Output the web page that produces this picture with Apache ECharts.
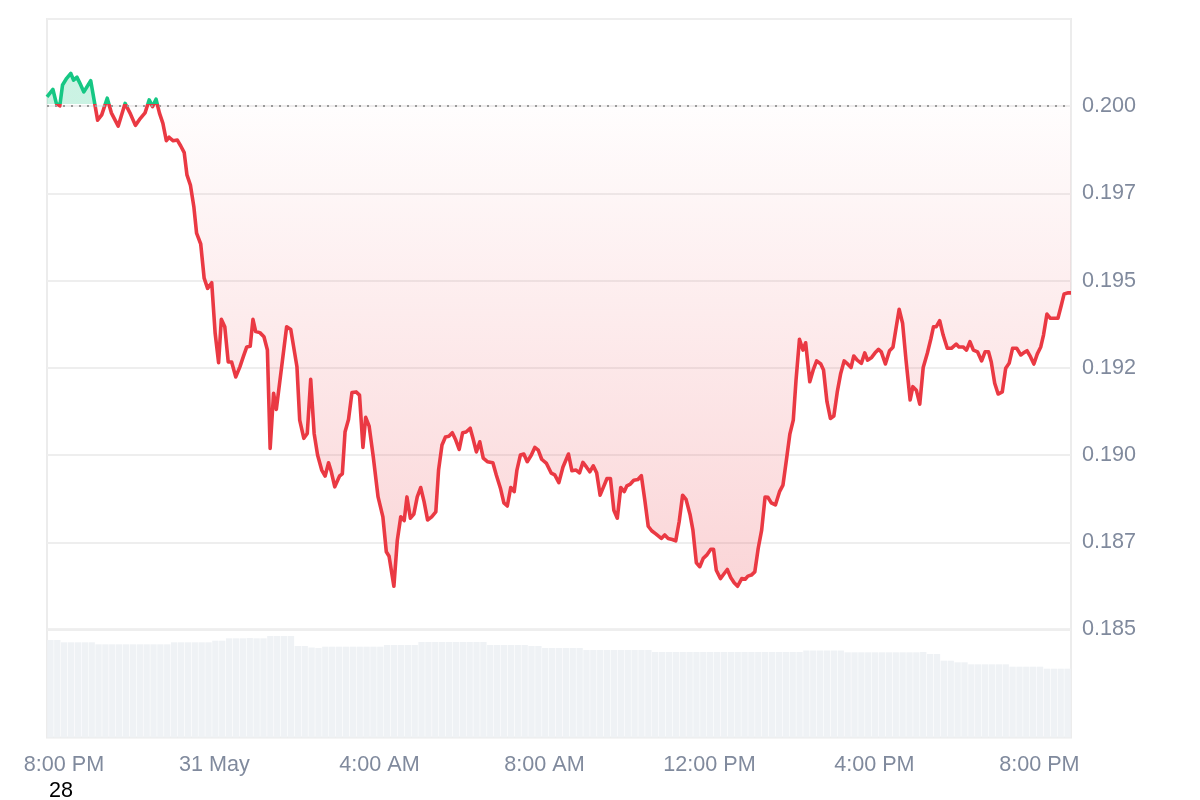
<!DOCTYPE html>
<html>
<head>
<meta charset="utf-8">
<script src="https://cdn.jsdelivr.net/npm/echarts@6/dist/echarts.min.js"></script>
<style>
html,body{margin:0;padding:0;background:#ffffff;}
#c{width:1200px;height:800px;}
</style>
</head>
<body>
<div id="c"></div>
<script>
// minutes relative to 8:00 PM (30 May)
const times = [
  -3.6, 5, 10, 15, 19, 25, 31, 35, 40, 44,
  50, 60, 70, 76, 84, 90, 100, 110, 117, 125,
  131, 139, 142, 145, 150, 155, 160, 165, 170, 174,
  180, 186, 191, 196, 200, 205, 210, 214, 220, 225,
  230, 236, 241, 246, 250, 255, 260, 265, 271, 277,
  282, 287, 292, 296, 300, 306, 312, 317, 321, 326,
  330, 345, 351, 360, 364, 370, 375, 380, 385, 390,
  396, 401, 406, 410, 415, 422, 426, 430, 435, 440,
  446, 451, 456, 460, 465, 471, 478, 485, 490, 494,
  501, 506, 511, 516, 520, 525, 530, 535, 540, 545,
  550, 556, 562, 566, 571, 576, 581, 586, 591, 596,
  601, 606, 612, 616, 621, 626, 631, 637, 645, 650,
  656, 661, 666, 671, 676, 680, 685, 690, 695, 701,
  706, 711, 716, 723, 730, 735, 741, 747, 755, 760,
  766, 771, 776, 781, 786, 791, 796, 801, 806, 811,
  816, 821, 826, 831, 836, 840, 845, 850, 856, 861,
  866, 871, 876, 882, 890, 895, 900, 906, 911, 916,
  921, 926, 932, 936, 941, 946, 951, 956, 962, 966,
  970, 976, 981, 986, 991, 996, 1001, 1007, 1012, 1016,
  1021, 1026, 1031, 1036, 1041, 1045, 1050, 1056, 1062, 1067,
  1072, 1077, 1082, 1086, 1091, 1096, 1100, 1106, 1111, 1116,
  1122, 1126, 1131, 1136, 1141, 1146, 1151, 1156, 1160, 1166,
  1170, 1175, 1181, 1186, 1190, 1196, 1201, 1206, 1210, 1216,
  1222, 1227, 1231, 1236, 1241, 1246, 1252, 1256, 1261, 1266,
  1271, 1277, 1282, 1286, 1290, 1295, 1300, 1306, 1312, 1319,
  1323, 1329, 1334, 1339, 1344, 1350, 1356, 1361, 1366, 1370,
  1375, 1380, 1386, 1391, 1396, 1401, 1407, 1413, 1417, 1422,
  1427, 1432, 1437, 1442, 1446, 1451, 1456, 1462, 1467, 1472,
  1476, 1482, 1486
];
const prices = [
  0.20027, 0.20048, 0.20008, 0.20001, 0.20061, 0.20080, 0.20094, 0.20075, 0.20083, 0.20067,
  0.20041, 0.20073, 0.19960, 0.19975, 0.20023, 0.19981, 0.19943, 0.20008, 0.19981, 0.19945,
  0.19962, 0.19981, 0.19999, 0.20018, 0.19999, 0.20020, 0.19980, 0.19951, 0.19901, 0.19911,
  0.19901, 0.19903, 0.19886, 0.19867, 0.19803, 0.19774, 0.19712, 0.19636, 0.19605, 0.19507,
  0.19478, 0.19494, 0.19349, 0.19265, 0.19389, 0.19368, 0.19267, 0.19267, 0.19224, 0.19253,
  0.19282, 0.19310, 0.19312, 0.19389, 0.19354, 0.19351, 0.19339, 0.19301, 0.19019, 0.19177,
  0.19131, 0.19368, 0.19360, 0.19253, 0.19100, 0.19048, 0.19062, 0.19217, 0.19062, 0.19000,
  0.18957, 0.18940, 0.18978, 0.18952, 0.18909, 0.18940, 0.18946, 0.19067, 0.19102, 0.19179,
  0.19181, 0.19172, 0.19022, 0.19108, 0.19083, 0.18995, 0.18880, 0.18823, 0.18723, 0.18710,
  0.18624, 0.18756, 0.18823, 0.18812, 0.18880, 0.18819, 0.18831, 0.18880, 0.18907, 0.18866,
  0.18814, 0.18823, 0.18837, 0.18957, 0.19029, 0.19052, 0.19054, 0.19064, 0.19043, 0.19016,
  0.19064, 0.19066, 0.19077, 0.19048, 0.19009, 0.19038, 0.18991, 0.18981, 0.18978, 0.18943,
  0.18905, 0.18863, 0.18854, 0.18907, 0.18895, 0.18957, 0.19000, 0.19003, 0.18981, 0.19000,
  0.19022, 0.19014, 0.18988, 0.18976, 0.18948, 0.18943, 0.18921, 0.18966, 0.19003, 0.18955,
  0.18957, 0.18949, 0.18979, 0.18966, 0.18952, 0.18969, 0.18949, 0.18885, 0.18909, 0.18933,
  0.18933, 0.18842, 0.18819, 0.18907, 0.18895, 0.18912, 0.18917, 0.18928, 0.18930, 0.18941,
  0.18871, 0.18796, 0.18783, 0.18774, 0.18761, 0.18771, 0.18761, 0.18758, 0.18754, 0.18809,
  0.18885, 0.18873, 0.18828, 0.18785, 0.18691, 0.18680, 0.18704, 0.18713, 0.18730, 0.18730,
  0.18670, 0.18646, 0.18659, 0.18672, 0.18649, 0.18634, 0.18624, 0.18646, 0.18644, 0.18653,
  0.18656, 0.18665, 0.18733, 0.18785, 0.18880, 0.18879, 0.18863, 0.18857, 0.18895, 0.18914,
  0.18986, 0.19060, 0.19100, 0.19215, 0.19332, 0.19301, 0.19322, 0.19210, 0.19244, 0.19270,
  0.19261, 0.19244, 0.19153, 0.19105, 0.19112, 0.19181, 0.19234, 0.19270, 0.19263, 0.19251,
  0.19284, 0.19272, 0.19263, 0.19293, 0.19272, 0.19280, 0.19293, 0.19303, 0.19296, 0.19261,
  0.19299, 0.19309, 0.19358, 0.19418, 0.19378, 0.19272, 0.19158, 0.19196, 0.19186, 0.19146,
  0.19251, 0.19292, 0.19332, 0.19368, 0.19368, 0.19385, 0.19344, 0.19306, 0.19306, 0.19318,
  0.19310, 0.19310, 0.19301, 0.19325, 0.19301, 0.19296, 0.19270, 0.19296, 0.19296, 0.19267,
  0.19206, 0.19175, 0.19181, 0.19249, 0.19263, 0.19306, 0.19306, 0.19287, 0.19293, 0.19299,
  0.19282, 0.19261, 0.19290, 0.19310, 0.19344, 0.19404, 0.19392, 0.19392, 0.19392, 0.19430,
  0.19462, 0.19465, 0.19465
];
const baselinePrice = 0.20005;

// volume, one bar per 10-minute bucket (millions, estimated)
const volumes = [
  195, 195, 190.4, 190.4, 190.4, 190.4, 190.4, 186.4, 186.4, 186.4,
  186.4, 186.4, 186.4, 186.4, 186.4, 186.4, 186.4, 186.4, 190.4, 190.4,
  190.4, 190.4, 190.4, 190.4, 193.6, 193.6, 198.4, 198.4, 198.4, 199,
  198.4, 198.4, 203, 203, 203, 203, 183, 183, 180, 179,
  181.6, 181.6, 181.6, 181.6, 181.6, 181.6, 181.6, 181.6, 181.6, 185,
  185, 185, 185, 185, 191, 191, 191, 191, 191, 191,
  191, 191, 191, 191, 185, 185, 185, 185, 185, 185,
  183, 183, 179, 179, 179, 179, 179, 179, 175, 175,
  175, 175, 175, 175, 175, 175, 175, 175, 171, 171,
  171, 171, 171, 171, 171, 171, 171, 171, 171, 171,
  171, 171, 171, 171, 171, 171, 171, 171, 171, 171,
  174, 174, 174, 174, 174, 174, 170.4, 170.4, 170.4, 170.4,
  170.4, 170.4, 170.4, 170.4, 170.4, 170.4, 170.4, 171, 167, 167,
  153.6, 153.6, 150.4, 150.4, 146.4, 146.4, 146.4, 146.4, 146.4, 146.4,
  141.6, 141.6, 141.6, 141.6, 141.6, 137.6, 137.6, 137.6, 137.6
];
const volumeBuckets = volumes.map((_, i) => String(i));

const xTickValues = [0, 240, 480, 720, 960, 1200, 1440];
const xTickLabels = ['8:00 PM', '31 May', '4:00 AM', '8:00 AM', '12:00 PM', '4:00 PM', '8:00 PM'];
const yTickValues = [0.185, 0.1875, 0.19, 0.1925, 0.195, 0.1975, 0.2];
const yTickLabels = ['0.185', '0.187', '0.190', '0.192', '0.195', '0.197', '0.200'];
const dateNote = '28';

const UP = '#16c784';
const DOWN = '#ea3943';
const LABEL = '#808a9d';
const FONT = '"Liberation Sans", Arial, Helvetica, sans-serif';
const FS = 21.6;

const chart = echarts.init(document.getElementById('c'), null, {renderer: 'canvas'});

const option = {
  animation: false,
  backgroundColor: '#ffffff',
  grid: [
    {left: 47, right: 129, top: 19, height: 610.5, show: true, borderColor: '#ececec', borderWidth: 2, backgroundColor: 'transparent'},
    {left: 47, right: 129, top: 629.5, height: 108, show: true, borderColor: '#ececec', borderWidth: 2, backgroundColor: 'transparent'}
  ],
  xAxis: [
    {gridIndex: 0, type: 'value', min: -3.6, max: 1486, show: false},
    {gridIndex: 1, type: 'category', data: volumeBuckets, position: 'top', show: false, boundaryGap: true},
    {
      gridIndex: 1, type: 'value', min: -3.6, max: 1486, position: 'bottom',
      axisLine: {show: false}, axisTick: {show: false}, splitLine: {show: false},
      axisLabel: {
        customValues: xTickValues,
        color: LABEL, fontSize: FS, fontFamily: FONT, margin: 17,
        formatter: function (v) {
          const i = xTickValues.indexOf(v);
          if (i < 0) return '';
          return i === 0 ? '{first|' + xTickLabels[i] + '}' : xTickLabels[i];
        },
        rich: {first: {padding: [0, 0, 0, 29], color: LABEL, fontSize: FS, fontFamily: FONT}}
      }
    }
  ],
  yAxis: [
    {
      gridIndex: 0, type: 'value', position: 'right', min: 0.185, max: 0.2025, interval: 0.0025,
      axisLine: {show: false}, axisTick: {show: false},
      splitLine: {show: true, lineStyle: {color: '#eeeeee', width: 2}},
      axisLabel: {
        color: LABEL, fontSize: FS, fontFamily: FONT, margin: 11,
        formatter: function (v) {
          const i = yTickValues.findIndex(t => Math.abs(t - v) < 1e-7);
          return i < 0 ? '' : yTickLabels[i];
        }
      }
    },
    {gridIndex: 1, type: 'value', min: 0, max: 216, show: false}
  ],
  series: [
    {
      id: 'volume', type: 'bar', xAxisIndex: 1, yAxisIndex: 1, silent: true,
      data: volumes, barCategoryGap: '8%',
      itemStyle: {color: '#eff2f5'}, z: 1
    },
    {
      id: 'price', type: 'line', xAxisIndex: 0, yAxisIndex: 0,
      data: times.map((t, i) => [t, prices[i]]),
      showSymbol: false, symbol: 'none', silent: true,
      lineStyle: {width: 3.6, color: DOWN, join: 'round'},
      areaStyle: {origin: baselinePrice, color: 'rgba(234,57,67,0.1)'},
      markLine: {
        silent: true, symbol: ['none', 'none'], label: {show: false},
        lineStyle: {color: '#9a9a9a', type: [2, 6], width: 2},
        data: [{yAxis: baselinePrice}]
      },
      z: 3
    }
  ],
  graphic: [
    {type: 'text', left: 49, top: 780, style: {text: dateNote, fill: '#000000', fontSize: FS, fontFamily: FONT}}
  ]
};

chart.setOption(option);

const yBase = chart.convertToPixel({yAxisIndex: 0}, baselinePrice);
const yHi = chart.convertToPixel({yAxisIndex: 0}, Math.max.apply(null, prices));
const yLo = chart.convertToPixel({yAxisIndex: 0}, Math.min.apply(null, prices));
const f = Math.max(0, Math.min(1, (yBase - yHi) / (yLo - yHi)));

const lineGrad = new echarts.graphic.LinearGradient(0, yHi, 0, yLo, [
  {offset: 0, color: UP}, {offset: f, color: UP},
  {offset: f, color: DOWN}, {offset: 1, color: DOWN}
], true);
const areaGrad = new echarts.graphic.LinearGradient(0, yHi, 0, yLo, [
  {offset: 0, color: 'rgba(22,199,132,0.32)'}, {offset: f, color: 'rgba(22,199,132,0.32)'},
  {offset: f, color: 'rgba(234,57,67,0.01)'}, {offset: 1, color: 'rgba(234,57,67,0.30)'}
], true);

chart.setOption({series: [{id: 'price', lineStyle: {color: lineGrad}, areaStyle: {color: areaGrad}}]});
</script>
</body>
</html>
